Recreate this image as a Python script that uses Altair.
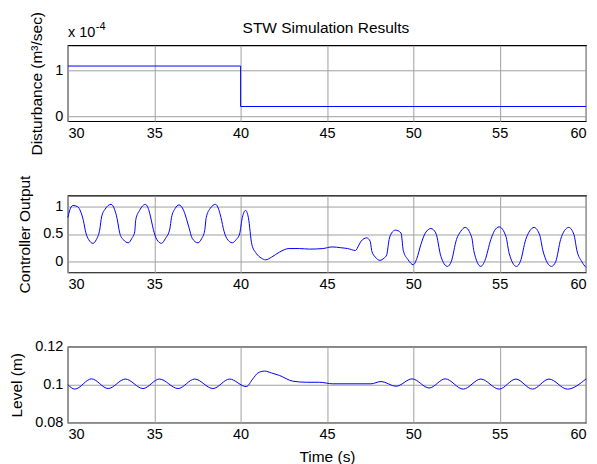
import altair as alt
import pandas as pd

FONT = "Liberation Sans"

# Disturbance (x 1e-4 m^3/sec)
dist_t = [30, 40, 40, 60]
dist_v = [1.09, 1.09, 0.21, 0.21]

# Controller output
ctrl_t = [30.0, 30.15, 30.3, 30.55, 30.75, 30.9, 31.04, 31.2, 31.45, 31.65, 31.85, 31.95, 32.15, 32.5,
          32.7, 32.85, 33.0, 33.2, 33.5, 33.7, 33.87, 33.93, 34.15, 34.49, 34.7, 34.85, 34.95, 35.15,
          35.42, 35.65, 35.9, 36.0, 36.2, 36.43, 36.7, 36.88, 37.0, 37.2, 37.53, 37.75, 37.92, 38.01,
          38.25, 38.55, 38.75, 38.9, 39.0, 39.2, 39.52, 39.75, 39.94, 40.1, 40.29, 40.45, 40.65, 40.9,
          41.2, 41.45, 41.8, 42.25, 42.8, 43.4, 44.0, 44.76, 45.3, 45.8, 46.2, 46.65, 46.85, 46.98,
          47.3, 47.5, 47.6, 47.8, 48.07, 48.3, 48.46, 48.6, 48.75, 48.96, 49.29, 49.42, 49.7, 50.0,
          50.2, 50.44, 50.7, 51.02, 51.3, 51.6, 51.98, 52.2, 52.5, 52.75, 53.0, 53.39, 53.5, 53.91,
          54.15, 54.49, 54.7, 54.97, 55.36, 55.55, 55.97, 56.2, 56.51, 56.75, 56.99, 57.32, 57.51,
          58.0, 58.25, 58.53, 58.75, 59.0, 59.3, 59.48, 59.75, 60.0]
ctrl_v = [0.8, 0.97, 1.02, 1.0, 0.9, 0.74, 0.52, 0.4, 0.33, 0.4, 0.59, 0.81, 0.95, 1.04,
          0.95, 0.78, 0.52, 0.4, 0.34, 0.42, 0.54, 0.76, 0.93, 1.04, 0.92, 0.72, 0.58, 0.4,
          0.33, 0.42, 0.59, 0.8, 0.96, 1.03, 0.93, 0.76, 0.63, 0.42, 0.34, 0.42, 0.56, 0.8,
          0.97, 1.04, 0.93, 0.75, 0.6, 0.42, 0.34, 0.4, 0.5, 0.8, 0.93, 0.8, 0.31, 0.15,
          0.06, 0.03, 0.08, 0.17, 0.235, 0.235, 0.225, 0.235, 0.265, 0.25, 0.235, 0.2, 0.3, 0.37,
          0.43, 0.37, 0.185, 0.08, 0.02, 0.06, 0.12, 0.4, 0.52, 0.57, 0.52, 0.2, 0.03, -0.06,
          0.05, 0.31, 0.52, 0.6, 0.52, 0.09, -0.09, 0.0, 0.4, 0.55, 0.62, 0.43, 0.2, -0.09,
          0.02, 0.4, 0.56, 0.63, 0.46, 0.15, -0.09, 0.0, 0.4, 0.56, 0.62, 0.48, 0.19,
          -0.09, 0.0, 0.4, 0.56, 0.62, 0.49, 0.19, 0.0, -0.11]

# Level (m)
lvl_t = [30.0, 30.4, 31.37, 32.33, 33.33, 34.35, 35.3, 36.38, 37.34, 38.4, 39.36, 40.33, 40.7,
         41.0, 41.39, 41.8, 42.25, 43.02, 43.8, 44.57, 45.34, 47.55, 48.13, 49.0, 49.93, 50.92,
         51.85, 52.89, 53.91, 54.97, 55.94, 56.9, 57.86, 58.92, 60.0]
lvl_v = [0.1, 0.0977, 0.1031, 0.098, 0.103, 0.098, 0.103, 0.098, 0.103, 0.098, 0.103, 0.099, 0.103,
         0.1062, 0.1072, 0.1062, 0.1049, 0.1019, 0.1013, 0.1013, 0.1005, 0.1005, 0.1017, 0.0992,
         0.1031, 0.0983, 0.1031, 0.0977, 0.103, 0.0977, 0.103, 0.0977, 0.103, 0.0977, 0.1031]

x_ticks = [30, 35, 40, 45, 50, 55, 60]
BLUE = "#0000ff"
W = 519
TITLE = "STW Simulation Results"


def x_enc(title=None):
    kw = dict(values=x_ticks, labelPadding=5, format="~g")
    if title:
        kw.update(title=title, titlePadding=8)
    else:
        kw.update(title=None)
    return alt.X("t:Q", scale=alt.Scale(domain=[30, 60], nice=False, zero=False), axis=alt.Axis(**kw))


def y_enc(domain, values, title, tx):
    return alt.Y("v:Q", scale=alt.Scale(domain=domain, nice=False, zero=False),
                 axis=alt.Axis(values=values, title=title, titleX=tx, titleBaseline="middle",
                               labelPadding=5, format="~g"))


d1 = pd.DataFrame({"t": dist_t, "v": dist_v, "i": list(range(len(dist_t)))})
line1 = alt.Chart(d1).mark_line(color=BLUE, strokeWidth=1).encode(
    x=x_enc(),
    y=y_enc([-0.11, 1.54], [0, 1], "Disturbance (m³/sec)", -31),
    order="i:Q",
)
one = pd.DataFrame({"a": [0]})
exp_a = alt.Chart(one).mark_text(text="x 10", align="left", baseline="middle", fontSize=14.5,
                                 font=FONT, color="black").encode(x=alt.value(0), y=alt.value(-12))
exp_b = alt.Chart(one).mark_text(text="-4", align="left", baseline="middle", fontSize=11,
                                 font=FONT, color="black").encode(x=alt.value(28), y=alt.value(-18))
ttl = alt.Chart(one).mark_text(text=TITLE, align="center", baseline="middle", fontSize=15.5,
                               font=FONT, color="black").encode(x=alt.value(W / 2 - 1), y=alt.value(-17))
panel1 = alt.layer(line1, exp_a, exp_b, ttl).properties(width=W, height=76)

d2 = pd.DataFrame({"t": ctrl_t, "v": ctrl_v})
panel2 = alt.Chart(d2).mark_line(color=BLUE, strokeWidth=1, interpolate="monotone").encode(
    x=x_enc(),
    y=y_enc([-0.2, 1.2], [0, 0.5, 1], "Controller Output", -43.5),
).properties(width=W, height=77)

d3 = pd.DataFrame({"t": lvl_t, "v": lvl_v})
panel3 = alt.Chart(d3).mark_line(color=BLUE, strokeWidth=1, interpolate="monotone").encode(
    x=x_enc("Time (s)"),
    y=y_enc([0.08, 0.12], [0.08, 0.1, 0.12], "Level (m)", -51.5),
).properties(width=W, height=76)

chart = alt.vconcat(panel1, panel2, panel3, spacing=74.5, bounds="flush").properties(
    padding={"left": 0, "top": 2, "right": 0, "bottom": 0},
    background="white",
).configure_view(stroke="black", strokeWidth=1.2).configure_axis(
    grid=True, gridColor="#a0a0a0", gridWidth=1, ticks=False, domain=False,
    labelFont=FONT, labelFontSize=14.5, labelColor="black",
    titleFont=FONT, titleFontSize=15.5, titleFontWeight="normal", titleColor="black",
)

chart.save("out.html", embed_options={"renderer": "svg", "actions": False})
